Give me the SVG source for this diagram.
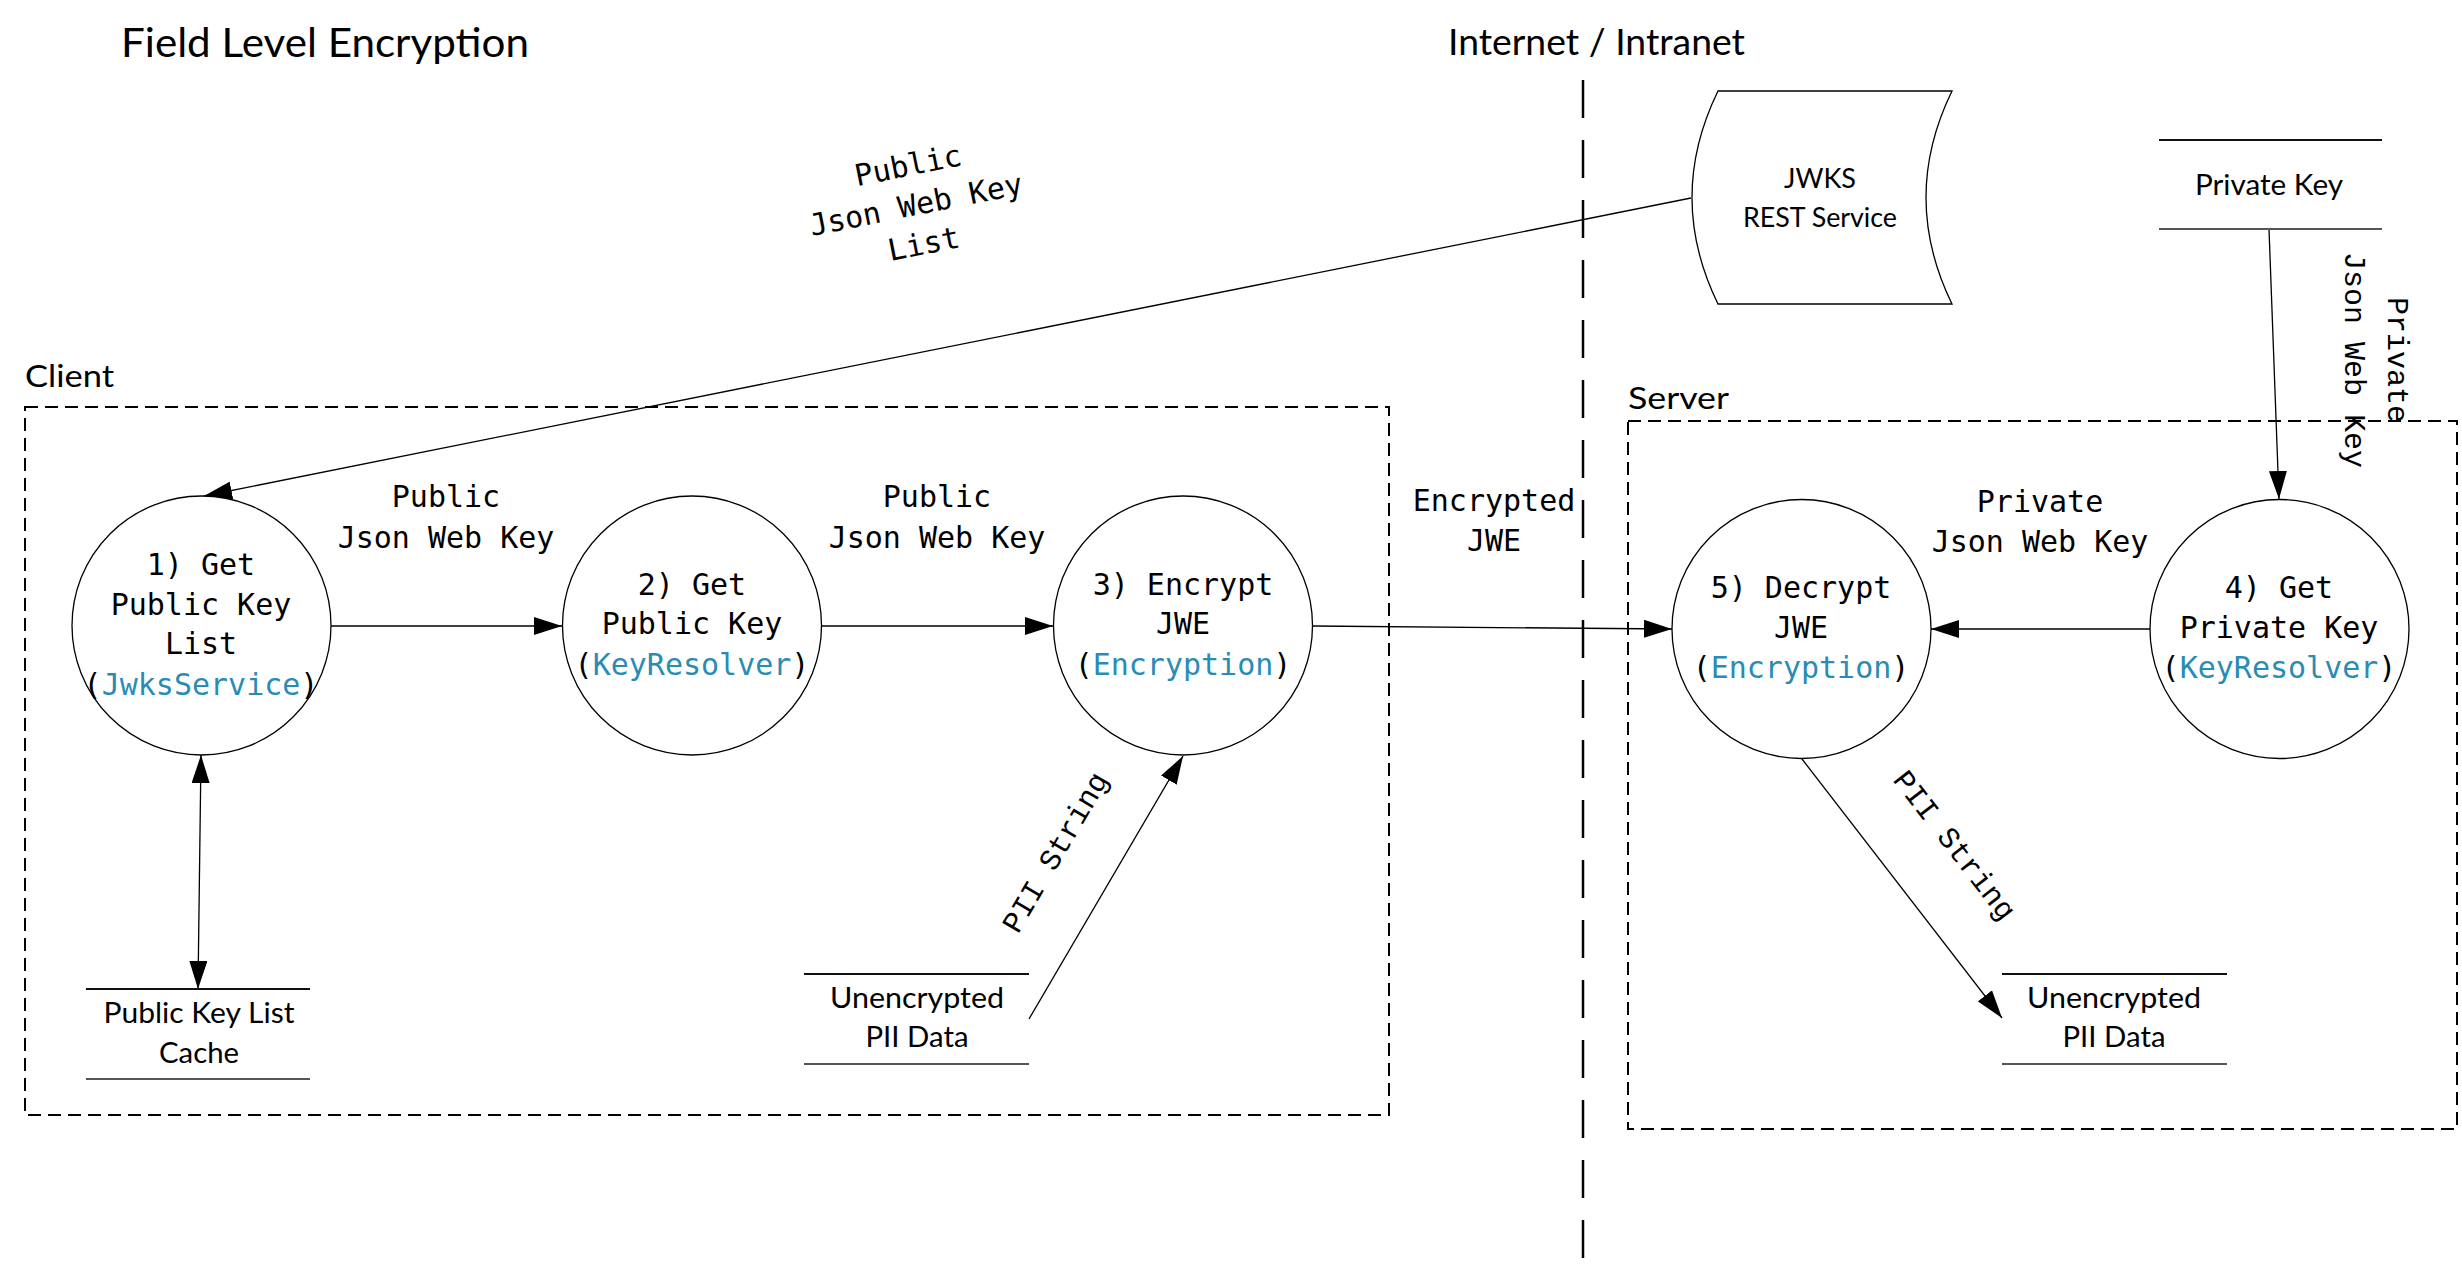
<svg xmlns="http://www.w3.org/2000/svg" width="2462" height="1266" viewBox="0 0 2462 1266">
<style>
.bg{fill:#ffffff}
.cal{font-family:Lato,"Liberation Sans",sans-serif;fill:#000}
.mono{font-family:"DejaVu Sans Mono","Liberation Mono",monospace;font-size:30px;fill:#000}
.cour{font-family:"Liberation Mono","Courier New",monospace;font-size:30px;fill:#000}
.blue{fill:#2a8cb4}
.node{fill:#fff;stroke:#000;stroke-width:1.3}
.box{fill:none;stroke:#000;stroke-width:2;stroke-dasharray:13 7}
.divider{fill:none;stroke:#000;stroke-width:2.5;stroke-dasharray:38 22}
.edge{fill:none;stroke:#000;stroke-width:1.3}
.store-top{stroke:#111;stroke-width:2}
.store-bot{stroke:#555;stroke-width:2}
</style>
<defs>
<marker id="arrow" markerUnits="userSpaceOnUse" markerWidth="28" markerHeight="18" refX="28" refY="9" orient="auto-start-reverse" viewBox="0 0 28 18">
<path d="M0,0 L28,9 L0,18 z" fill="#000"/>
</marker>
</defs>
<rect class="bg" x="0" y="0" width="2462" height="1266"/>

<g id="labels">
<text class="cal" x="121" y="57" font-size="40" textLength="408" lengthAdjust="spacingAndGlyphs">Field Level Encryption</text>
<text class="cal" x="1448" y="55" font-size="36" textLength="297" lengthAdjust="spacingAndGlyphs">Internet / Intranet</text>
<text class="cal" x="25" y="387" font-size="31" textLength="89" lengthAdjust="spacingAndGlyphs">Client</text>
<text class="cal" x="1628" y="409" font-size="31" textLength="101" lengthAdjust="spacingAndGlyphs">Server</text>
</g>

<g id="boundaries">
<line class="divider" x1="1583" y1="80" x2="1583" y2="1258"/>
<rect id="client-box" class="box" x="25" y="407" width="1364" height="708"/>
<rect id="server-box" class="box" x="1628" y="421" width="829" height="708"/>
</g>

<g id="connectors">
<line class="edge" x1="1691" y1="198" x2="204" y2="496" marker-end="url(#arrow)"/>
<line class="edge" x1="331" y1="626" x2="562" y2="626" marker-end="url(#arrow)"/>
<line class="edge" x1="822" y1="626" x2="1053" y2="626" marker-end="url(#arrow)"/>
<line class="edge" x1="1313" y1="626" x2="1672" y2="629" marker-end="url(#arrow)"/>
<line class="edge" x1="2150" y1="629" x2="1931" y2="629" marker-end="url(#arrow)"/>
<line class="edge" x1="2269" y1="229" x2="2279" y2="499" marker-end="url(#arrow)"/>
<line class="edge" x1="201" y1="755" x2="198" y2="989" marker-start="url(#arrow)" marker-end="url(#arrow)"/>
<line class="edge" x1="1029" y1="1019" x2="1183" y2="756" marker-end="url(#arrow)"/>
<line class="edge" x1="1802" y1="759" x2="2002" y2="1018" marker-end="url(#arrow)"/>

<text class="mono" text-anchor="middle" transform="translate(916,205) rotate(-11.3)"><tspan x="0" y="-30">Public</tspan><tspan x="0" y="10">Json Web Key</tspan><tspan x="0" y="50">List</tspan></text>
<text class="mono" text-anchor="middle"><tspan x="446" y="507">Public</tspan><tspan x="446" y="548">Json Web Key</tspan></text>
<text class="mono" text-anchor="middle"><tspan x="937" y="507">Public</tspan><tspan x="937" y="548">Json Web Key</tspan></text>
<text class="mono" text-anchor="middle"><tspan x="1494" y="511">Encrypted</tspan><tspan x="1494" y="551">JWE</tspan></text>
<text class="mono" text-anchor="middle"><tspan x="2040" y="512">Private</tspan><tspan x="2040" y="552">Json Web Key</tspan></text>
<text class="cour" text-anchor="middle" transform="translate(2378,360) rotate(90)"><tspan x="0" y="-10">Private</tspan><tspan x="0" y="33">Json Web Key</tspan></text>
<text class="cour" text-anchor="middle" transform="translate(1055,852) rotate(-59.6)" x="0" y="10">PII String</text>
<text class="cour" text-anchor="middle" transform="translate(1955,845) rotate(52.3)" x="0" y="10">PII String</text>
</g>

<g id="jwks-service">
<path class="node" d="M1718,91 L1952,91 Q1900,197.5 1952,304 L1718,304 Q1666,197.5 1718,91 Z"/>
<text class="cal" font-size="27" text-anchor="middle"><tspan x="1820" y="188">JWKS</tspan><tspan x="1820" y="227" textLength="154" lengthAdjust="spacingAndGlyphs">REST Service</tspan></text>
</g>

<g id="private-key-store">
<line class="store-top" x1="2159" y1="140" x2="2382" y2="140" stroke="#555"/>
<line class="store-bot" x1="2159" y1="229" x2="2382" y2="229"/>
<text class="cal" font-size="28" text-anchor="middle" x="2269" y="195" textLength="148" lengthAdjust="spacingAndGlyphs">Private Key</text>
</g>

<g id="public-key-cache">
<line class="store-top" x1="86" y1="989" x2="310" y2="989"/>
<line class="store-bot" x1="86" y1="1079" x2="310" y2="1079"/>
<text class="cal" font-size="28" text-anchor="middle"><tspan x="199" y="1023" textLength="191" lengthAdjust="spacingAndGlyphs">Public Key List</tspan><tspan x="199" y="1063" textLength="80" lengthAdjust="spacingAndGlyphs">Cache</tspan></text>
</g>

<g id="client-pii-data">
<line class="store-top" x1="804" y1="974" x2="1029" y2="974"/>
<line class="store-bot" x1="804" y1="1064" x2="1029" y2="1064"/>
<text class="cal" font-size="28" text-anchor="middle"><tspan x="917" y="1008" textLength="174" lengthAdjust="spacingAndGlyphs">Unencrypted</tspan><tspan x="917" y="1047" textLength="103" lengthAdjust="spacingAndGlyphs">PII Data</tspan></text>
</g>

<g id="server-pii-data">
<line class="store-top" x1="2002" y1="974" x2="2227" y2="974"/>
<line class="store-bot" x1="2002" y1="1064" x2="2227" y2="1064"/>
<text class="cal" font-size="28" text-anchor="middle"><tspan x="2114" y="1008" textLength="174" lengthAdjust="spacingAndGlyphs">Unencrypted</tspan><tspan x="2114" y="1047" textLength="103" lengthAdjust="spacingAndGlyphs">PII Data</tspan></text>
</g>

<g id="node1">
<circle class="node" cx="201.5" cy="625.5" r="129.5"/>
<text class="mono" text-anchor="middle"><tspan x="201" y="575">1) Get</tspan><tspan x="201" y="615">Public Key</tspan><tspan x="201" y="654">List</tspan><tspan x="201" y="695">(<tspan class="blue">JwksService</tspan>)</tspan></text>
</g>

<g id="node2">
<circle class="node" cx="692" cy="625.5" r="129.5"/>
<text class="mono" text-anchor="middle"><tspan x="692" y="595">2) Get</tspan><tspan x="692" y="634">Public Key</tspan><tspan x="692" y="675">(<tspan class="blue">KeyResolver</tspan>)</tspan></text>
</g>

<g id="node3">
<circle class="node" cx="1183" cy="625.5" r="129.5"/>
<text class="mono" text-anchor="middle"><tspan x="1183" y="595">3) Encrypt</tspan><tspan x="1183" y="634">JWE</tspan><tspan x="1183" y="675">(<tspan class="blue">Encryption</tspan>)</tspan></text>
</g>

<g id="node4">
<circle class="node" cx="2279.5" cy="629" r="129.5"/>
<text class="mono" text-anchor="middle"><tspan x="2279" y="598">4) Get</tspan><tspan x="2279" y="638">Private Key</tspan><tspan x="2279" y="678">(<tspan class="blue">KeyResolver</tspan>)</tspan></text>
</g>

<g id="node5">
<circle class="node" cx="1801.5" cy="629" r="129.5"/>
<text class="mono" text-anchor="middle"><tspan x="1801" y="598">5) Decrypt</tspan><tspan x="1801" y="638">JWE</tspan><tspan x="1801" y="678">(<tspan class="blue">Encryption</tspan>)</tspan></text>
</g>
</svg>
